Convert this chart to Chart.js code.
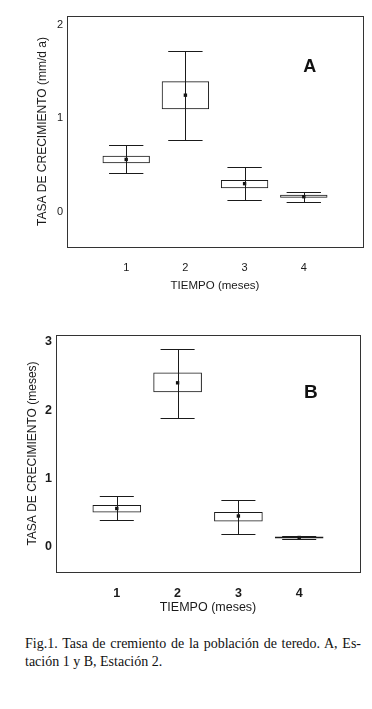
<!DOCTYPE html>
<html>
<head>
<meta charset="utf-8">
<script src="https://cdn.jsdelivr.net/npm/chart.js@4"></script>
<style>
  html, body { margin: 0; padding: 0; background: #fff; }
  body { width: 372px; height: 709px; position: relative; overflow: hidden; }
  canvas { position: absolute; left: 0; }
  #cA { top: 0; }
  #cB { top: 320px; }
  .cap { position: absolute; left: 25px; width: 336px; font-family: "Liberation Serif", "Times New Roman", serif; font-size: 14px; color: #111; white-space: nowrap; }
  #cap1 { top: 636px; text-align: justify; text-align-last: justify; white-space: normal; }
  #cap2 { top: 654px; }
</style>
</head>
<body>
<canvas id="cA" width="372" height="300"></canvas>
<canvas id="cB" width="372" height="300"></canvas>
<div class="cap" id="cap1">Fig.1. Tasa de cremiento de la población de teredo. A, Es-</div>
<div class="cap" id="cap2">tación 1 y B, Estación 2.</div>
<script>
// ---- Data ----
const months = [1, 2, 3, 4];
const xTicks = [1, 2, 3, 4];

// Panel A: Estación 1
const meanA      = [0.56, 1.25, 0.30, 0.16];
const boxLowA    = [0.52, 1.10, 0.25, 0.15];
const boxHighA   = [0.60, 1.40, 0.34, 0.18];
const whiskLowA  = [0.41, 0.77, 0.12, 0.10];
const whiskHighA = [0.72, 1.72, 0.48, 0.21];
const yTicksA    = [0, 1, 2];

// Panel B: Estación 2
const meanB      = [0.56, 2.40, 0.45, 0.135];
const boxLowB    = [0.50, 2.26, 0.37, 0.12];
const boxHighB   = [0.61, 2.55, 0.51, 0.15];
const whiskLowB  = [0.385, 1.89, 0.19, 0.115];
const whiskHighB = [0.74, 2.89, 0.68, 0.155];
const yTicksB    = [0, 1, 2, 3];

const FONT = "'Liberation Sans', Arial, Helvetica, sans-serif";
const INK = '#1a1a1a';
const CLEAR = 'rgba(0,0,0,0)';

const whiskerPlugin = {
  id: 'whiskers',
  afterDatasetsDraw(chart, args, opts) {
    const {ctx, scales: {x, y}, chartArea} = chart;
    ctx.save();
    // frame
    ctx.strokeStyle = '#333';
    ctx.lineWidth = 1;
    ctx.strokeRect(Math.round(chartArea.left) + 0.5, Math.round(chartArea.top) + 0.5,
                   Math.round(chartArea.right - chartArea.left), Math.round(chartArea.bottom - chartArea.top));
    // whiskers
    ctx.strokeStyle = INK;
    opts.xs.forEach((xv, i) => {
      const px = Math.round(x.getPixelForValue(xv)) + 0.5;
      const pLo = Math.round(y.getPixelForValue(opts.lo[i])) + 0.5;
      const pHi = Math.round(y.getPixelForValue(opts.hi[i])) + 0.5;
      const c0 = x.getPixelForValue(xv - opts.cap);
      const c1 = x.getPixelForValue(xv + opts.cap);
      ctx.beginPath();
      ctx.moveTo(px, pLo); ctx.lineTo(px, pHi);
      ctx.moveTo(c0, pLo); ctx.lineTo(c1, pLo);
      ctx.moveTo(c0, pHi); ctx.lineTo(c1, pHi);
      ctx.stroke();
    });
    // panel letter
    ctx.fillStyle = '#111';
    ctx.font = 'bold ' + opts.letterSize + 'px ' + FONT;
    ctx.textAlign = 'center';
    ctx.textBaseline = 'middle';
    ctx.fillText(opts.letter, x.getPixelForValue(opts.letterX), y.getPixelForValue(opts.letterY));
    ctx.restore();
  }
};

function makeChart(id, cfg) {
  return new Chart(document.getElementById(id), {
    type: 'bar',
    data: {
      datasets: [
        {
          type: 'scatter',
          data: months.map((m, i) => ({x: m, y: cfg.mean[i]})),
          pointStyle: 'rect',
          pointRadius: 2.4,
          backgroundColor: '#111',
          borderColor: '#111',
          borderWidth: 0,
          order: 0
        },
        {
          type: 'bar',
          data: months.map((m, i) => ({x: m, y: [cfg.boxLo[i], cfg.boxHi[i]]})),
          backgroundColor: cfg.boxFill,
          borderColor: INK,
          borderWidth: 1,
          borderSkipped: false,
          categoryPercentage: 0.8,
          barPercentage: 1,
          order: 1
        }
      ]
    },
    options: {
      responsive: false,
      devicePixelRatio: 1,
      animation: false,
      layout: { padding: cfg.pad },
      plugins: {
        legend: { display: false },
        tooltip: { enabled: false },
        whiskers: {
          xs: months, lo: cfg.wLo, hi: cfg.wHi, cap: cfg.cap,
          letter: cfg.letter, letterX: cfg.letterX, letterY: cfg.letterY, letterSize: cfg.letterSize
        }
      },
      scales: {
        x: {
          type: 'linear',
          offset: false,
          min: 0, max: 5,
          grid: { display: false, drawTicks: false, offset: false },
          border: { display: false },
          afterBuildTicks: s => { s.ticks = xTicks.map(v => ({value: v})); },
          afterFit: s => { s.height = cfg.xH; },
          ticks: {
            color: INK,
            padding: cfg.xTickPad,
            font: { family: FONT, size: cfg.tickSize, weight: cfg.tickWeight },
            callback: v => String(v)
          },
          title: {
            display: true,
            text: 'TIEMPO (meses)',
            color: INK,
            padding: { top: 0, bottom: cfg.xTitlePad },
            font: { family: FONT, size: cfg.xTitleSize }
          }
        },
        y: {
          type: 'linear',
          min: cfg.yMin, max: cfg.yMax,
          grid: { display: false, drawTicks: false },
          border: { display: false },
          afterBuildTicks: s => { s.ticks = cfg.yTicks.map(v => ({value: v})); },
          afterFit: s => { s.width = cfg.yW; },
          ticks: {
            color: INK,
            padding: cfg.yTickPad,
            font: { family: FONT, size: cfg.tickSize, weight: cfg.tickWeight },
            callback: v => String(v)
          },
          title: {
            display: true,
            text: cfg.yTitle,
            color: INK,
            padding: { top: 0, bottom: 0 },
            font: { family: FONT, size: 12 }
          }
        }
      }
    },
    plugins: [whiskerPlugin]
  });
}

makeChart('cA', {
  mean: meanA, boxLo: boxLowA, boxHi: boxHighA, wLo: whiskLowA, wHi: whiskHighA,
  boxFill: [CLEAR, CLEAR, CLEAR, CLEAR],
  yTicks: yTicksA, yMin: -0.38, yMax: 2.1,
  yTitle: 'TASA DE CRECIMIENTO (mm/d a)',
  pad: { left: 35, top: 16, right: 9, bottom: 0 },
  yW: 32, xH: 53, xTickPad: 14, yTickPad: 4, xTitlePad: 7,
  tickSize: 11, tickWeight: 'normal', xTitleSize: 11.5,
  cap: 0.29, letter: 'A', letterX: 4.1, letterY: 1.55, letterSize: 18
});

makeChart('cB', {
  mean: meanB, boxLo: boxLowB, boxHi: boxHighB, wLo: whiskLowB, wHi: whiskHighB,
  boxFill: [CLEAR, CLEAR, CLEAR, INK],
  yTicks: yTicksB, yMin: -0.37, yMax: 3.1,
  yTitle: 'TASA DE CRECIMIENTO (meses)',
  pad: { left: 25, top: 15, right: 12, bottom: 0 },
  yW: 31, xH: 48, xTickPad: 14, yTickPad: 4, xTitlePad: 5,
  tickSize: 12.5, tickWeight: 'bold', xTitleSize: 12.5,
  cap: 0.28, letter: 'B', letterX: 4.19, letterY: 2.25, letterSize: 19
});
</script>
</body>
</html>
